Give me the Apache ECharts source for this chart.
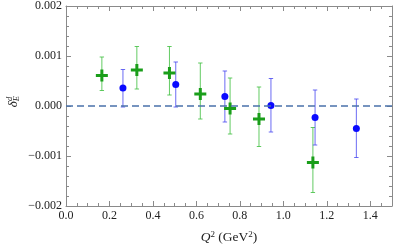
<!DOCTYPE html>
<html><head><meta charset="utf-8">
<script src="https://cdn.jsdelivr.net/npm/echarts@6/dist/echarts.min.js"></script>
<style>html,body{margin:0;padding:0;background:#fff}#c{width:395px;height:250px}</style>
</head><body><div id="c"></div>
<script>
const greenX  = [0.165, 0.326, 0.476, 0.618, 0.755, 0.888, 1.136];
const greenY  = [0.00061, 0.00072, 0.00066, 0.00024, -0.00005, -0.00026, -0.00113];
const greenLo = [0.00031, 0.00034, 0.00022, -0.00026, -0.00056, -0.00081, -0.00173];
const greenHi = [0.00098, 0.00119, 0.00119, 0.00086, 0.00056, 0.00038, -0.00043];

const blueX  = [0.262, 0.505, 0.731, 0.943, 1.146, 1.336];
const blueY  = [0.00036, 0.00043, 0.00019, 0.00001, -0.00023, -0.00045];
const blueLo = [-0.00002, -0.00002, -0.00032, -0.00052, -0.00078, -0.00103];
const blueHi = [0.00073, 0.00088, 0.00070, 0.00055, 0.00032, 0.00014];

const xTicks = [0.0, 0.2, 0.4, 0.6, 0.8, 1.0, 1.2, 1.4];
const yTicks = [-0.002, -0.001, 0.000, 0.001, 0.002];

const FONT = '"Liberation Serif", "DejaVu Serif", serif';
const AX = '#8a8a8a';

function errRender(color) {
  return function (params, api) {
    const x = api.value(0), lo = api.value(1), hi = api.value(2);
    const a = api.coord([x, hi]), b = api.coord([x, lo]);
    const w = 2.2;
    const st = {stroke: color, lineWidth: 1};
    return {type: 'group', children: [
      {type: 'line', shape: {x1: a[0], y1: a[1], x2: b[0], y2: b[1]}, style: st},
      {type: 'line', shape: {x1: a[0]-w, y1: a[1], x2: a[0]+w, y2: a[1]}, style: st},
      {type: 'line', shape: {x1: b[0]-w, y1: b[1], x2: b[0]+w, y2: b[1]}, style: st}
    ]};
  };
}

const yFmt = v => {
  const r = Math.round(v * 1000) / 1000;
  const s = Math.abs(r).toFixed(3);
  return r < 0 ? '\u2212' + s : s;
};

function xAxisBase(extra) {
  return Object.assign({
    type: 'value', min: 0, max: 1.5, interval: 0.2,
    axisLine: {show: true, onZero: false, lineStyle: {color: AX, width: 1}},
    axisTick: {show: true, inside: true, length: 5, lineStyle: {color: AX}},
    minorTick: {show: true, splitNumber: 4, length: 3, lineStyle: {color: AX}},
    splitLine: {show: false}
  }, extra);
}
function yAxisBase(extra) {
  return Object.assign({
    type: 'value', min: -0.002, max: 0.002, interval: 0.001,
    axisLine: {show: true, onZero: false, lineStyle: {color: AX, width: 1}},
    axisTick: {show: true, inside: true, length: 5, lineStyle: {color: AX}},
    minorTick: {show: true, splitNumber: 5, length: 3, lineStyle: {color: AX}},
    splitLine: {show: false}
  }, extra);
}

const chart = echarts.init(document.getElementById('c'), null, {renderer: 'canvas'});
chart.setOption({
  animation: false,
  backgroundColor: '#fff',
  grid: {left: 66, right: 2, top: 6, bottom: 41},
  xAxis: [
    xAxisBase({position: 'bottom',
      axisLabel: {show: true, margin: 4, color: '#222', fontFamily: FONT, fontSize: 12,
        formatter: v => xTicks.some(t => Math.abs(t - v) < 1e-9) ? v.toFixed(1) : ''},
      name: '{q|Q}{s|2} (GeV{s|2})', nameLocation: 'middle', nameGap: 24,
      nameTextStyle: {color: '#222', fontFamily: FONT, fontSize: 13.5,
        rich: {q: {fontStyle: 'italic', fontFamily: FONT, fontSize: 13.5, color: '#222'},
               s: {fontSize: 9, verticalAlign: 'top', lineHeight: 9, fontFamily: FONT, color: '#222', padding: [0,0,6,0]}}}
    }),
    xAxisBase({position: 'top', axisLabel: {show: false}})
  ],
  yAxis: [
    yAxisBase({position: 'left',
      axisLabel: {show: true, margin: 4, color: '#222', fontFamily: FONT, fontSize: 12,
        formatter: v => yTicks.some(t => Math.abs(t - v) < 1e-9) ? yFmt(v) : ''}}),
    yAxisBase({position: 'right', axisLabel: {show: false}})
  ],
  graphic: [{
    type: 'text', left: 5, top: 96, rotation: Math.PI / 2,
    style: {
      text: '{d|δ}{sub|E}{sup|d}',
      rich: {
        d: {fontFamily: FONT, fontSize: 13, fontStyle: 'italic', fill: '#222'},
        sub: {fontFamily: FONT, fontSize: 8.5, fontStyle: 'italic', fill: '#222', padding: [6,0,0,0]},
        sup: {fontFamily: FONT, fontSize: 8.5, fontStyle: 'italic', fill: '#222', padding: [0,0,8,-5]}
      }
    }
  }],
  series: [
    {
      type: 'line', xAxisIndex: 0, yAxisIndex: 0, data: [], symbol: 'none',
      markLine: {silent: true, symbol: 'none', label: {show: false},
        lineStyle: {color: '#4a72aa', width: 1.6, type: [7, 4]},
        data: [{yAxis: 0}]}
    },
    {
      type: 'custom', xAxisIndex: 0, yAxisIndex: 0,
      renderItem: errRender('rgba(60,190,60,0.8)'),
      data: greenX.map((x, i) => [x, greenLo[i], greenHi[i]]), z: 3
    },
    {
      type: 'custom', xAxisIndex: 0, yAxisIndex: 0,
      renderItem: errRender('rgba(70,70,240,0.8)'),
      data: blueX.map((x, i) => [x, blueLo[i], blueHi[i]]), z: 3
    },
    {
      type: 'scatter', xAxisIndex: 0, yAxisIndex: 0,
      symbol: 'path://M3,0H5V3H8V5H5V8H3V5H0V3H3Z', symbolSize: 12,
      itemStyle: {color: '#1a9e1a', opacity: 1},
      data: greenX.map((x, i) => [x, greenY[i]]), z: 4
    },
    {
      type: 'scatter', xAxisIndex: 0, yAxisIndex: 0,
      symbol: 'circle', symbolSize: 7,
      itemStyle: {color: '#0a0aff', opacity: 1},
      data: blueX.map((x, i) => [x, blueY[i]]), z: 4
    }
  ]
});
</script></body></html>
